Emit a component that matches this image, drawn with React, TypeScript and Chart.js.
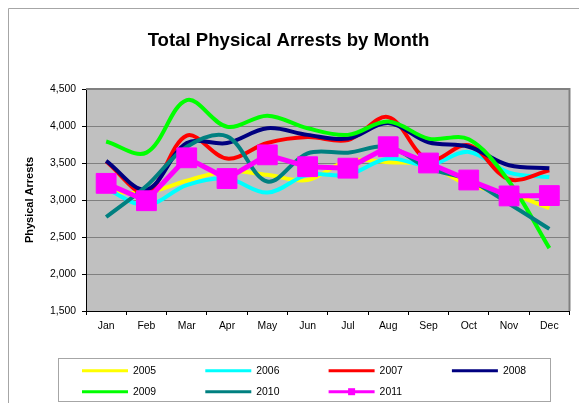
import React, { useEffect, useRef } from 'react';
import { Chart, registerables } from 'chart.js';

Chart.register(...registerables);

const months = ['Jan', 'Feb', 'Mar', 'Apr', 'May', 'Jun', 'Jul', 'Aug', 'Sep', 'Oct', 'Nov', 'Dec'];
const years = ['2005', '2006', '2007', '2008', '2009', '2010', '2011'];

const s2005 = [3120, 3100, 3260, 3390, 3340, 3270, 3530, 3510, 3470, 3200, 3090, 2890];
const s2006 = [3150, 2930, 3200, 3290, 3100, 3340, 3340, 3560, 3470, 3650, 3370, 3310];
const s2007 = [3520, 3100, 3870, 3560, 3770, 3850, 3810, 4120, 3540, 3740, 3280, 3400];
const s2008 = [3530, 3140, 3770, 3770, 3970, 3880, 3830, 4040, 3780, 3720, 3470, 3430];
const s2009 = [3790, 3640, 4350, 3990, 4140, 3970, 3880, 4060, 3830, 3820, 3250, 2350];
const s2010 = [2770, 3190, 3720, 3860, 3250, 3630, 3640, 3720, 3430, 3270, 2950, 2610];
const s2011 = [3225, 2990, 3570, 3290, 3610, 3450, 3430, 3720, 3500, 3270, 3055, 3060];

const seriesValues = [s2005, s2006, s2007, s2008, s2009, s2010, s2011];
const seriesColors = ['#FFFF00', '#00FFFF', '#FF0000', '#000080', '#00FF00', '#008080', '#FF00FF'];

const yMin = 1500;
const yMax = 4500;
const yStep = 500;

const chartTitle = 'Total Physical Arrests by Month';
const yTitle = 'Physical Arrests';

const FONT = '"Liberation Sans", Arial, Helvetica, sans-serif';

const framePlugin = {
  id: 'framePlugin',
  beforeDraw(chart: any) {
    const { ctx, chartArea } = chart;
    ctx.save();
    ctx.fillStyle = '#FFFFFF';
    ctx.fillRect(0, 0, chart.width, chart.height);
    // outer chart border
    ctx.strokeStyle = '#A6A6A6';
    ctx.lineWidth = 1;
    ctx.beginPath();
    ctx.moveTo(0.5, chart.height + 2);
    ctx.lineTo(0.5, 0.5);
    ctx.lineTo(571.5, 0.5);
    ctx.lineTo(571.5, chart.height + 2);
    ctx.stroke();
    // plot background
    ctx.fillStyle = '#C0C0C0';
    ctx.fillRect(chartArea.left, chartArea.top, chartArea.right - chartArea.left, chartArea.bottom - chartArea.top);
    ctx.restore();
  },
  beforeDatasetsDraw(chart: any) {
    const { ctx, chartArea } = chart;
    ctx.save();
    ctx.strokeStyle = '#808080';
    ctx.lineWidth = 2;
    ctx.beginPath();
    ctx.moveTo(chartArea.left, chartArea.top);
    ctx.lineTo(chartArea.right, chartArea.top);
    ctx.lineTo(chartArea.right, chartArea.bottom);
    ctx.stroke();
    ctx.restore();
  },
  afterDraw(chart: any) {
    const { ctx } = chart;
    ctx.save();
    // title
    ctx.fillStyle = '#000000';
    ctx.font = `bold 18.6px ${FONT}`;
    ctx.textAlign = 'center';
    ctx.textBaseline = 'alphabetic';
    ctx.fillText(chartTitle, 280.5, 37.7);

    // legend box
    ctx.strokeStyle = '#A6A6A6';
    ctx.lineWidth = 1;
    ctx.strokeRect(50.5, 350.5, 492, 43);

    const ds = chart.data.datasets;
    ctx.font = `10.4px ${FONT}`;
    ctx.textAlign = 'left';
    ctx.textBaseline = 'middle';
    for (let i = 0; i < ds.length; i++) {
      const col = i % 4;
      const row = Math.floor(i / 4);
      const x0 = 74 + col * 123.3;
      const y0 = 362.7 + row * 21;
      ctx.strokeStyle = ds[i].borderColor;
      ctx.lineWidth = 3;
      ctx.beginPath();
      ctx.moveTo(x0, y0);
      ctx.lineTo(x0 + 46, y0);
      ctx.stroke();
      if (ds[i].pointRadius > 0) {
        ctx.fillStyle = ds[i].borderColor;
        ctx.fillRect(x0 + 23 - 3.5, y0 - 3.5, 7, 7);
      }
      ctx.fillStyle = '#000000';
      ctx.fillText(ds[i].label, x0 + 51, y0);
    }
    ctx.restore();
  },
};

export default function App() {
  const ref = useRef<HTMLCanvasElement | null>(null);

  useEffect(() => {
    document.documentElement.style.overflow = 'hidden';
    document.body.style.overflow = 'hidden';
    const canvas = ref.current;
    if (!canvas) return;

    const datasets = years.map((y, i) => {
      const isLast = i === years.length - 1;
      return {
        label: y,
        data: seriesValues[i],
        borderColor: seriesColors[i],
        backgroundColor: seriesColors[i],
        borderWidth: isLast ? 5 : 4,
        tension: isLast ? 0 : 0.35,
        pointRadius: isLast ? 14 : 0,
        pointStyle: 'rect',
        pointBackgroundColor: seriesColors[i],
        pointBorderColor: seriesColors[i],
        pointBorderWidth: 1,
        fill: false,
        order: years.length - 1 - i,
        clip: false as any,
      };
    });

    const chart = new Chart(canvas, {
      type: 'line',
      data: { labels: months, datasets },
      plugins: [framePlugin],
      options: {
        animation: false,
        responsive: false,
        devicePixelRatio: 1,
        events: [],
        layout: { padding: { left: 0, top: 81, right: 17.5, bottom: 52 } },
        plugins: {
          legend: { display: false },
          tooltip: { enabled: false },
          title: { display: false },
        },
        scales: {
          x: {
            type: 'category',
            offset: true,
            afterFit: (scale: any) => {
              scale.height = 40;
            },
            grid: {
              offset: true,
              drawOnChartArea: false,
              drawTicks: true,
              tickLength: 4,
              tickColor: '#000000',
            },
            border: { color: '#000000', width: 1 },
            ticks: {
              color: '#000000',
              font: { family: FONT, size: 10.4 },
              padding: 5,
              maxRotation: 0,
              autoSkip: false,
            },
          },
          y: {
            min: yMin,
            max: yMax,
            afterFit: (scale: any) => {
              scale.width = 78;
            },
            grid: {
              color: '#808080',
              lineWidth: 1,
              drawTicks: true,
              tickLength: 4,
              tickColor: '#000000',
            },
            border: { color: '#000000', width: 1 },
            ticks: {
              stepSize: yStep,
              color: '#000000',
              font: { family: FONT, size: 10.4 },
              padding: 6,
              callback: (v: any) => Number(v).toLocaleString('en-US'),
            },
            title: {
              display: true,
              text: yTitle,
              color: '#000000',
              font: { family: FONT, size: 11, weight: 'bold' },
              padding: { top: 15.4, bottom: 0 },
            },
          },
        },
      },
    } as any);

    return () => {
      chart.destroy();
    };
  }, []);

  return (
    <canvas
      ref={ref}
      width={579}
      height={395}
      style={{ display: 'block', width: '579px', height: '395px' }}
    />
  );
}
